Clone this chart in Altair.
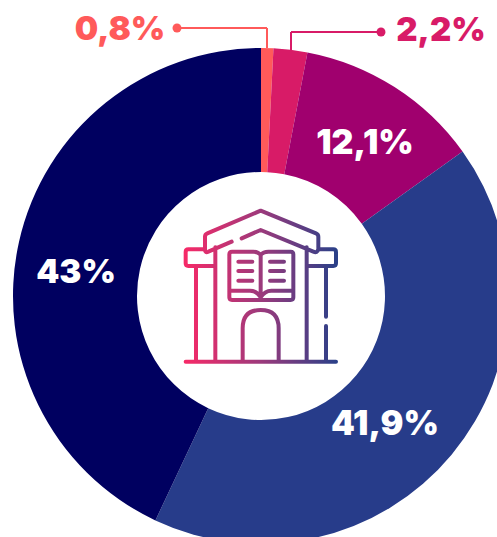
import altair as alt
import pandas as pd

labels = ["0,8%", "2,2%", "12,1%", "41,9%", "43%"]
values = [0.8, 2.2, 12.1, 41.9, 43.0]
colors = ["#ff5a5a", "#d81b67", "#a0006e", "#273c8a", "#000060"]

OX, OY = 8, 8          # page margin
CX, CY = 261 - OX, 296 - OY
FONT = "Inter"

df = pd.DataFrame({"label": labels, "value": values, "idx": range(5)})

arcs = alt.Chart(df).mark_arc(outerRadius=248, innerRadius=124, stroke=None).encode(
    theta=alt.Theta("value:Q", stack=True, scale=alt.Scale(domain=[0, 100], range=[0, 6.28318530718])),
    order=alt.Order("idx:Q"),
    color=alt.Color("label:N", scale=alt.Scale(domain=labels, range=colors), legend=None),
    x=alt.value(CX),
    y=alt.value(CY),
)

one = pd.DataFrame({"a": [0]})


def label(text, x, y, color, size=33):
    return alt.Chart(one).mark_text(
        text=text, font=FONT, fontWeight=900, fontSize=size, color=color,
        align="center", baseline="middle",
    ).encode(x=alt.value(x - OX), y=alt.value(y - OY))


def seg(x1, y1, x2, y2, color):
    enc = dict(x=alt.value(x1 - OX), y=alt.value(y1 - OY))
    if x1 != x2:
        enc["x2"] = alt.value(x2 - OX)
    if y1 != y2:
        enc["y2"] = alt.value(y2 - OY)
    return alt.Chart(one).mark_rule(color=color, strokeWidth=2).encode(**enc)


def dot(x, y, color):
    return alt.Chart(one).mark_point(filled=True, opacity=1, size=80, color=color).encode(
        x=alt.value(x - OX), y=alt.value(y - OY)
    )


# icon outline, in units of 1/3 px, relative to the icon's centre
ICX, ICY = 272, 260
def P(*pts):
    return " ".join(str(p - ICX) if i % 2 == 0 else str(p - ICY) for i, p in enumerate(pts))

icon = " ".join([
    # roof
    "M", P(105, 150), "L", P(105, 110), "Q", P(105, 103, 112, 100), "L", P(272, 32), "L", P(438, 100),
    "Q", P(445, 103, 445, 110), "L", P(445, 148), "Q", P(442, 160, 430, 155), "L", P(272, 90), "L", P(215, 115),
    "M", P(185, 125), "L", P(115, 155), "Q", P(105, 160, 105, 150),
    # capitals
    "M", P(105, 148), "L", P(55, 148), "Q", P(47, 148, 47, 156), "L", P(47, 190), "Q", P(47, 198, 55, 198), "L", P(135, 198),
    "M", P(445, 148), "L", P(490, 148), "Q", P(498, 148, 498, 156), "L", P(498, 190), "Q", P(498, 198, 490, 198), "L", P(410, 198),
    # columns
    "M", P(78, 198), "L", P(78, 485),
    "M", P(136, 142), "L", P(136, 485),
    "M", P(410, 142), "L", P(410, 485),
    "M", P(468, 198), "L", P(468, 350),
    "M", P(468, 378), "L", P(468, 485),
    # base
    "M", P(47, 485), "L", P(498, 485),
    # door
    "M", P(218, 485), "L", P(218, 385), "Q", P(218, 330, 272, 330), "Q", P(326, 330, 326, 385), "L", P(326, 485),
    # book
    "M", P(178, 163), "Q", P(178, 155, 186, 155), "L", P(250, 155), "Q", P(265, 155, 272, 165),
    "Q", P(280, 155, 295, 155), "L", P(362, 155), "Q", P(370, 155, 370, 163), "L", P(370, 292),
    "Q", P(370, 300, 362, 300), "L", P(186, 300), "Q", P(178, 300, 178, 292), "Z",
    "M", P(178, 272), "L", P(240, 272), "Q", P(260, 272, 272, 292), "Q", P(284, 272, 304, 272), "L", P(370, 272),
    "M", P(272, 165), "L", P(272, 290),
    "M", P(205, 185), "L", P(247, 185), "M", P(205, 213), "L", P(247, 213), "M", P(205, 242), "L", P(247, 242),
    "M", P(300, 185), "L", P(342, 185), "M", P(300, 213), "L", P(342, 213), "M", P(300, 242), "L", P(342, 242),
])

gradient = alt.Gradient(
    gradient="linear", x1=0, y1=0, x2=1, y2=0,
    stops=[alt.GradientStop(color="#f52a68", offset=0),
           alt.GradientStop(color="#9c3a7c", offset=0.5),
           alt.GradientStop(color="#2b4088", offset=1)],
)
building = alt.Chart(one).mark_point(
    shape=icon, size=4 / 9, filled=False, opacity=1, stroke=gradient, strokeWidth=4,
    strokeCap="round", strokeJoin="round",
).encode(x=alt.value(ICX / 3 + 170 - OX), y=alt.value(ICY / 3 + 200 - OY))

chart = alt.layer(
    arcs,
    seg(177, 28, 267, 28, colors[0]), seg(267, 28, 267, 48, colors[0]), dot(177, 28, colors[0]),
    seg(291, 32, 381, 32, colors[1]), seg(291, 32, 291, 50, colors[1]), dot(381, 32, colors[1]),
    label(labels[0], 120, 30, colors[0]),
    label(labels[1], 441, 31, colors[1]),
    label(labels[2], 365, 144, "white", 34),
    label(labels[3], 385, 425, "white", 34),
    label(labels[4], 76, 273, "white"),
    building,
).properties(
    width=510, height=545, padding=0, background="white",
    autosize=alt.AutoSizeParams(type="none"),
).configure_view(stroke=None)

chart.save("out.html", embed_options={
    "renderer": "svg", "actions": False,
    "defaultStyle": "html{overflow:hidden} body{overflow:visible !important;width:520px;max-width:none !important} #vis.vega-embed{display:block !important;width:520px !important;max-width:none !important;overflow:visible !important} #vis.vega-embed>*{flex:none;overflow:visible} svg{max-width:none !important;display:block}",
})
